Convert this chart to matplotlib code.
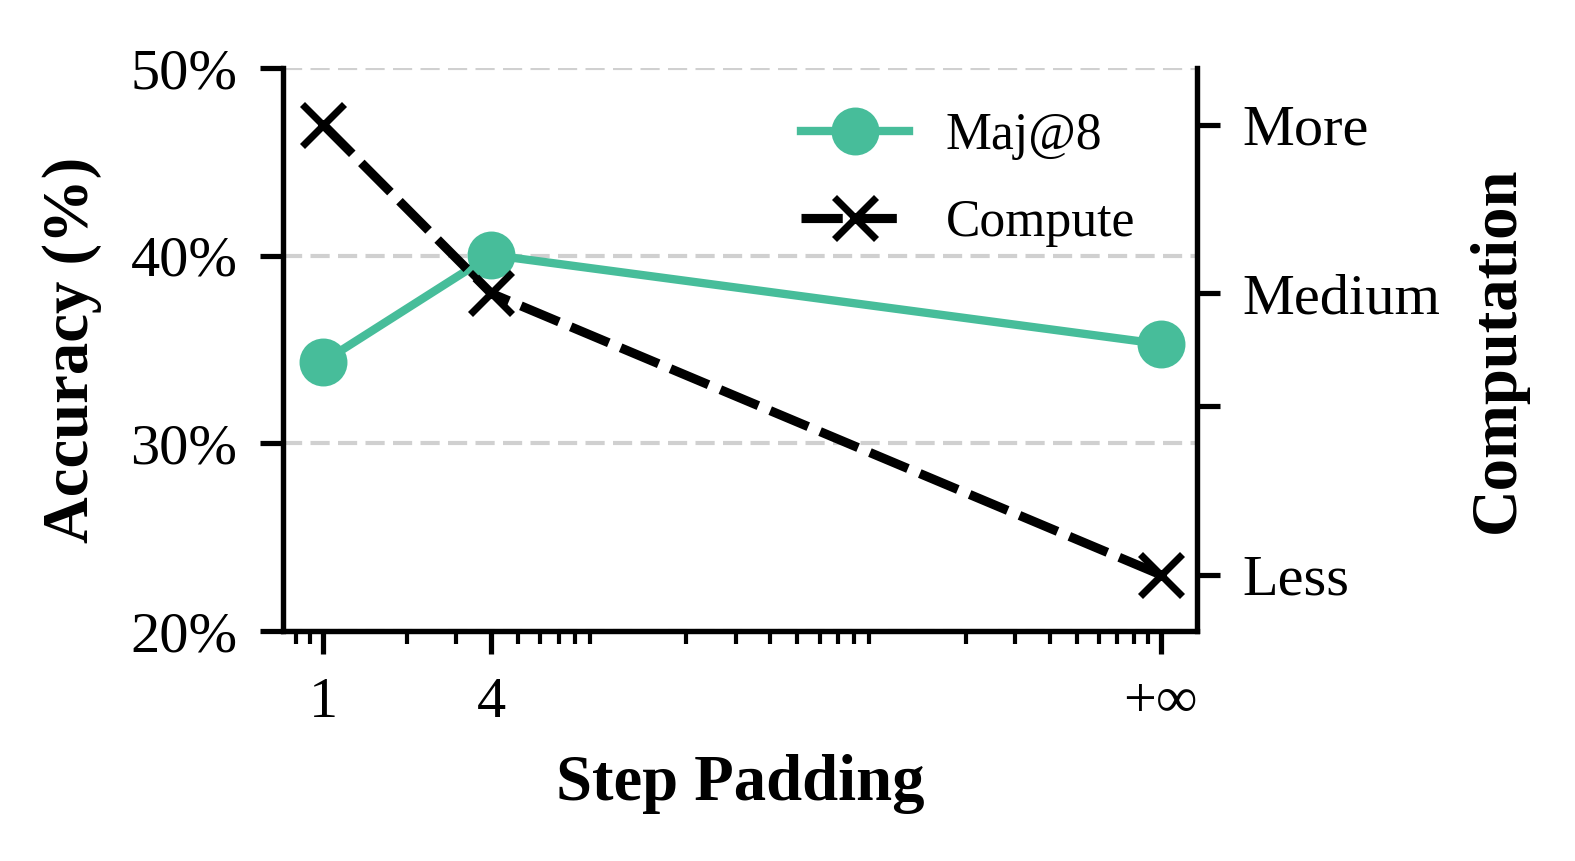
import matplotlib
matplotlib.use("Agg")
import matplotlib.pyplot as plt
from matplotlib.ticker import NullFormatter, LogLocator

plt.rcParams['font.family'] = ['Liberation Serif', 'DejaVu Serif']

# ---- data ----
step_padding = [1, 4, 1000]
step_labels = ['1', '4', '+∞']
maj8 = [34.35, 40.05, 35.3]
compute = [0.9, 0.6, 0.1]
acc_ticks = [20, 30, 40, 50]
acc_labels = ['20%', '30%', '40%', '50%']
comp_ticks = [0.1, 0.4, 0.6, 0.9]
comp_labels = ['Less', '', 'Medium', 'More']

green = '#47bd9a'

fig = plt.figure(figsize=(5.25, 2.87), dpi=300)
ax = fig.add_axes([0.1799, 0.2671, 0.5801, 0.6536])
ax2 = ax.twinx()

l1, = ax.plot(step_padding, maj8, color=green, lw=2.0, marker='o', ms=10.5,
              label='Maj@8', zorder=3)
l2, = ax2.plot(step_padding, compute, color='black', lw=2.2, ls=(0, (4.5, 1.4)),
               marker='x', ms=10, mew=1.7, label='Compute', zorder=3)

ax.set_xscale('log')
ax.set_xlim(0.72, 1350)
ax.set_ylim(20, 50)
ax2.set_ylim(0, 1)

ax.set_xticks(step_padding)
ax.set_xticklabels(step_labels)
ax.xaxis.set_minor_locator(LogLocator(base=10, subs=[2, 3, 4, 5, 6, 7, 8, 9], numticks=20))
ax.xaxis.set_minor_formatter(NullFormatter())

ax.set_yticks(acc_ticks)
ax.set_yticklabels(acc_labels)
ax2.set_yticks(comp_ticks)
ax2.set_yticklabels(comp_labels)

for a in (ax, ax2):
    for s in a.spines.values():
        s.set_linewidth(1.25)
    a.spines['top'].set_visible(False)
    a.tick_params(which='major', length=5.5, width=1.25, labelsize=14, pad=5.5)
    a.tick_params(which='minor', length=3, width=1.0)

ax.grid(axis='y', ls=(0, (4.6, 2)), lw=1.0, color='#d0d0d0', zorder=0)
ax.set_axisbelow(True)

ax.set_xlabel('Step Padding', fontsize=15.5, fontweight='bold')
ax.xaxis.set_label_coords(0.5, -0.219)
ax.set_ylabel('Accuracy (%)', fontsize=15.5, fontweight='bold')
ax.yaxis.set_label_coords(-0.198, 0.5)
ax2.set_ylabel('Computation', fontsize=15.5, fontweight='bold')
ax2.yaxis.set_label_coords(1.2965, 0.5)

leg = ax2.legend([l1, l2], ['Maj@8', 'Compute'], loc='upper right',
                 bbox_to_anchor=(0.983, 1.005), frameon=False, fontsize=12.4,
                 handlelength=2.1, handletextpad=0.7, labelspacing=0.75)

fig.savefig('out.png', dpi=300)
